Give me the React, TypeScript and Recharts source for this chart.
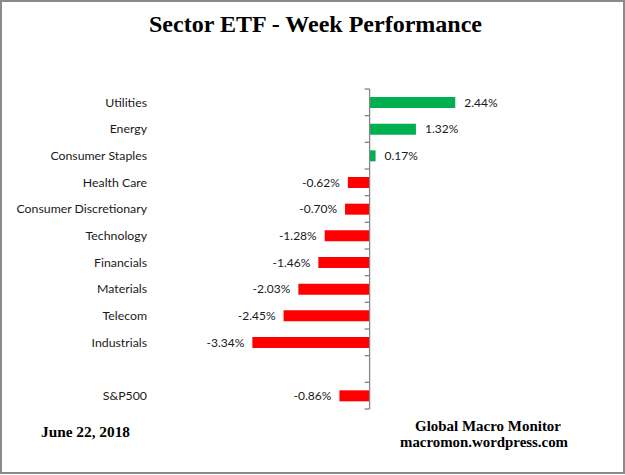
import { BarChart, Bar, XAxis, YAxis, Cell, LabelList, ReferenceLine } from 'recharts';

const categories = [
  'Utilities',
  'Energy',
  'Consumer Staples',
  'Health Care',
  'Consumer Discretionary',
  'Technology',
  'Financials',
  'Materials',
  'Telecom',
  'Industrials',
  ' ',
  'S&P500',
];
const weekChange: (number | null)[] = [2.44, 1.32, 0.17, -0.62, -0.7, -1.28, -1.46, -2.03, -2.45, -3.34, null, -0.86];

const chartTitle = 'Sector ETF - Week Performance';
const dateNote = 'June 22, 2018';
const sourceLines = ['Global Macro Monitor', 'macromon.wordpress.com'];

const UP = '#00B050';
const DOWN = '#FF0000';
const AXIS = '#868686';
const labelFont = 'Lato, "Open Sans", sans-serif';
const serif = '"Liberation Serif", "Times New Roman", serif';

const data = categories.map((name, i) => ({ name, value: weekChange[i] }));

// zero axis with tick marks between categories
const ZeroAxis = (props: any) => {
  const { x1, y1, y2 } = props;
  const top = Math.min(y1, y2);
  const bottom = Math.max(y1, y2);
  const step = (bottom - top) / categories.length;
  return (
    <g>
      <line x1={x1} y1={top} x2={x1} y2={bottom} stroke={AXIS} strokeWidth={1.3} />
      {categories.map((_, i) => (
        <line key={i} x1={x1 - 5} y1={top + i * step} x2={x1} y2={top + i * step} stroke={AXIS} strokeWidth={1.3} />
      ))}
      <line x1={x1 - 5} y1={bottom} x2={x1} y2={bottom} stroke={AXIS} strokeWidth={1.3} />
    </g>
  );
};

const ValueLabel = (props: any) => {
  const { x, y, width, height, value } = props;
  if (value == null) return null;
  const neg = value < 0;
  const end = neg ? Math.min(x, x + width) : Math.max(x, x + width);
  return (
    <text
      x={neg ? end - 8 : end + 9}
      y={y + height / 2 + 1}
      textAnchor={neg ? 'end' : 'start'}
      dominantBaseline="middle"
      fontFamily={labelFont}
      fontSize={12}
      fill="#1a1a1a"
    >
      {value.toFixed(2)}%
    </text>
  );
};

export default function App() {
  return (
    <div
      style={{
        position: 'relative',
        width: 625,
        height: 474,
        boxSizing: 'border-box',
        border: '2px solid #8a8a8a',
        background: '#fff',
      }}
    >
      <style>{`body{margin:0}`}</style>
      <div style={{ position: 'absolute', left: -2, top: -2 }}>
        <BarChart
          width={625}
          height={475}
          data={data}
          layout="vertical"
          margin={{ top: 89, right: 115, bottom: 66, left: 0 }}
        >
          <XAxis type="number" domain={[-6, 4]} hide />
          <YAxis
            type="category"
            dataKey="name"
            width={159}
            axisLine={false}
            tickLine={false}
            tickSize={6}
            tickMargin={6}
            interval={0}
            tick={{ fontFamily: labelFont, fontSize: 12.3, fill: '#1a1a1a' }}
          />
          <Bar dataKey="value" barSize={11} isAnimationActive={false}>
            {data.map((d, i) => (
              <Cell key={i} fill={(d.value ?? 0) >= 0 ? UP : DOWN} />
            ))}
            <LabelList dataKey="value" content={ValueLabel} />
          </Bar>
          <ReferenceLine x={0} shape={ZeroAxis} />
        </BarChart>
      </div>
      <svg
        width={625}
        height={475}
        style={{ position: 'absolute', left: -2, top: -2, pointerEvents: 'none' }}
      >
        <text x={149} y={32} fontFamily={serif} fontWeight="bold" fontSize={24}
          textLength={333} lengthAdjust="spacingAndGlyphs" fill="#000">
          {chartTitle}
        </text>
        <text x={41} y={437} fontFamily={serif} fontWeight="bold" fontSize={15}
          textLength={89} lengthAdjust="spacingAndGlyphs" fill="#000">
          {dateNote}
        </text>
        <text x={415} y={431} fontFamily={serif} fontWeight="bold" fontSize={15}
          textLength={146} lengthAdjust="spacingAndGlyphs" fill="#000">
          {sourceLines[0]}
        </text>
        <text x={400} y={447} fontFamily={serif} fontWeight="bold" fontSize={15}
          textLength={168} lengthAdjust="spacingAndGlyphs" fill="#000">
          {sourceLines[1]}
        </text>
      </svg>
    </div>
  );
}
